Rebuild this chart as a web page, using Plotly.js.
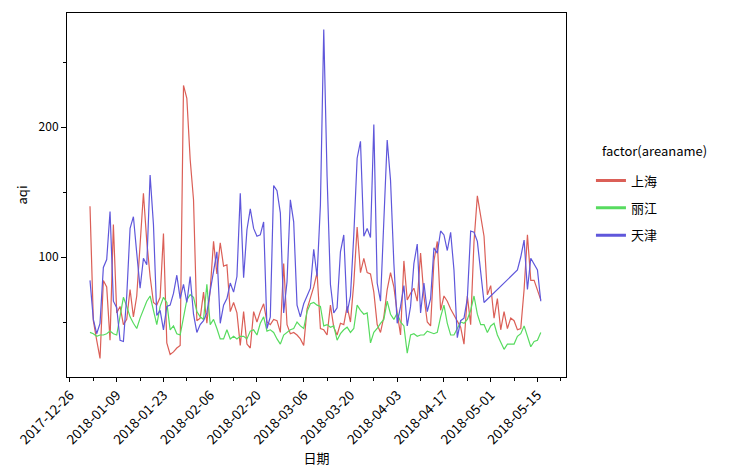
<!DOCTYPE html>
<html>
<head>
<meta charset="utf-8">
<script src="https://cdn.plot.ly/plotly-3.0.1.min.js"></script>
<style>
html,body{margin:0;padding:0;background:#fff;}
#chart{width:746px;height:476px;}
</style>
</head>
<body>
<div id="chart"></div>
<script>
// ---- data ----
const START_DATE = '2018-01-01';
const areaNames = ['上海', '丽江', '天津'];
const areaColors = ['#db5f57', '#57db5f', '#5f57db'];
const legendTitle = 'factor(areaname)';

const shanghai = [
  139, 51, 36, 22, 82, 77, 36, 125, 57, 62,
  48, 52, 75, 54, 70, 112, 149, 112, 85, 65,
  63, 69, 118, 34, 25, 27, 30, 32, 232, 222,
  175, 144, 51, 53, 73, 49, 75, 112, 87, 111,
  93, 94, 58, 65, 57, 32, 58, 33, 30, 58,
  50, 58, 64, 50, 48, 52, 51, 42, 95, 48,
  41, 42, 40, 37, 32, 60, 68, 77, 88, 45,
  44, 40, 63, 46, 40, 49, 48, 62, 50, 80,
  123, 88, 99, 88, 87, 73, 48, 42, 54, 75,
  88, 77, 57, 40, 97, 67, 72, 76, 66, 103,
  70, 50, 47, 97, 112, 59, 70, 66, 60, 55,
  50, 46, 33, 70, 48, 112, 147, 133, 116, 71,
  78, 53, 68, 44, 58, 45, 53, 51, 44, 45,
  75, 117, 82, 82, 74, 67
];

const lijiang = [
  42, 41, 39, 40, 40, 41, 43, 41, 40, 56,
  69, 62, 54, 49, 45, 53, 59, 66, 70, 58,
  48, 62, 69, 65, 44, 47, 41, 40, 54, 67,
  71, 69, 58, 54, 52, 79, 48, 52, 45, 37,
  37, 44, 37, 39, 37, 39, 39, 37, 43, 44,
  40, 49, 54, 43, 44, 42, 37, 33, 40, 42,
  44, 45, 50, 47, 45, 58, 64, 65, 63, 62,
  47, 48, 46, 47, 36, 41, 44, 46, 42, 45,
  63, 59, 56, 57, 34, 42, 45, 49, 52, 66,
  56, 52, 57, 50, 47, 26, 40, 41, 39, 40,
  40, 43, 42, 41, 42, 54, 63, 49, 40, 40,
  45, 50, 49, 52, 59, 70, 56, 48, 48, 42,
  47, 49, 40, 34, 29, 33, 33, 33, 39, 41,
  47, 38, 31, 35, 36, 42
];

const tianjin = [
  82, 52, 41, 49, 92, 98, 135, 66, 61, 36,
  35, 70, 122, 131, 103, 76, 99, 94, 163, 125,
  55, 59, 44, 62, 63, 72, 86, 68, 79, 65,
  85, 56, 42, 48, 51, 57, 74, 88, 104, 49,
  63, 68, 80, 73, 85, 149, 84, 121, 137, 122,
  116, 117, 127, 45, 54, 155, 151, 134, 57, 81,
  144, 127, 63, 54, 64, 70, 76, 106, 85, 140,
  275, 162, 79, 57, 61, 104, 117, 57, 70, 117,
  176, 189, 116, 122, 115, 202, 80, 66, 123, 190,
  159, 95, 49, 62, 78, 47, 62, 95, 110, 57,
  80, 58, 68, 107, 103, 120, 117, 105, 119, 90,
  38, 51, 53, 68, 120, 119, 112, 87, 65, null,
  null, null, null, null, null, null, null, null, 90, 100,
  113, 75, 99, 95, 90, 66
];

const seriesList = [shanghai, lijiang, tianjin];

// dates: consecutive days starting at START_DATE
function buildDates(n) {
  const out = [];
  const t0 = Date.parse(START_DATE + 'T00:00:00Z');
  for (let i = 0; i < n; i++) {
    out.push(new Date(t0 + i * 86400000).toISOString().slice(0, 10));
  }
  return out;
}
const dates = buildDates(shanghai.length);

const FONT = '"Noto Sans CJK SC", "Noto Sans", sans-serif';

const traces = [];
seriesList.forEach((vals, i) => {
  traces.push({
    type: 'scatter', mode: 'lines',
    x: dates, y: vals,
    name: areaNames[i],
    line: {color: areaColors[i], width: 1.2},
    connectgaps: true,
    showlegend: false,
    hoverinfo: 'x+y+name'
  });
});
// legend entries (thicker swatches)
areaNames.forEach((nm, i) => {
  traces.push({
    type: 'scatter', mode: 'lines',
    x: [null], y: [null],
    name: nm,
    legendgroup: 'g' + i,
    line: {color: areaColors[i], width: 3},
    showlegend: true
  });
});

const DAY = 86400000;
const layout = {
  width: 746, height: 476,
  paper_bgcolor: '#fff', plot_bgcolor: '#fff',
  margin: {l: 67, r: 180, t: 13, b: 99},
  font: {family: FONT, size: 12, color: '#000'},
  xaxis: {
    type: 'date',
    range: ['2017-12-25 02:40', '2018-05-23 13:10'],
    tick0: '2017-12-26', dtick: 14 * DAY,
    tickformat: '%Y-%m-%d',
    tickangle: -45,
    ticks: 'outside', ticklen: 4, tickcolor: '#000', tickwidth: 1,
    minor: {tick0: '2017-12-26', dtick: 7 * DAY, ticks: 'outside', ticklen: 3, tickcolor: '#000', showgrid: false},
    showline: true, linecolor: '#000', linewidth: 1, mirror: true,
    showgrid: false, zeroline: false,
    tickfont: {family: FONT, size: 13.5, color: '#000'},
    title: {text: '日期', font: {family: FONT, size: 13, color: '#000'}, standoff: 4}
  },
  yaxis: {
    range: [7.7, 287.7],
    tick0: 0, dtick: 100,
    ticks: 'outside', ticklen: 5, tickcolor: '#000', tickwidth: 1,
    minor: {tick0: 0, dtick: 50, ticks: 'outside', ticklen: 3, tickcolor: '#000', showgrid: false},
    showline: true, linecolor: '#000', linewidth: 1, mirror: true,
    showgrid: false, zeroline: false,
    tickfont: {family: FONT, size: 12, color: '#000'},
    title: {text: 'aqi', font: {family: FONT, size: 13, color: '#000'}, standoff: 8}
  },
  showlegend: true,
  legend: {
    x: 1.05, xanchor: 'left', y: 0.581, yanchor: 'top',
    bgcolor: 'rgba(0,0,0,0)',
    font: {family: FONT, size: 13, color: '#000'},
    tracegroupgap: 7.5,
    itemwidth: 30
  },
  annotations: [{
    text: legendTitle,
    xref: 'paper', yref: 'paper',
    x: (600 - 67) / 499, y: (377 - 150) / 364,
    xanchor: 'left', yanchor: 'middle',
    showarrow: false,
    font: {family: FONT, size: 13, color: '#000'}
  }]
};

Plotly.newPlot('chart', traces, layout, {displayModeBar: false, staticPlot: true});
</script>
</body>
</html>
